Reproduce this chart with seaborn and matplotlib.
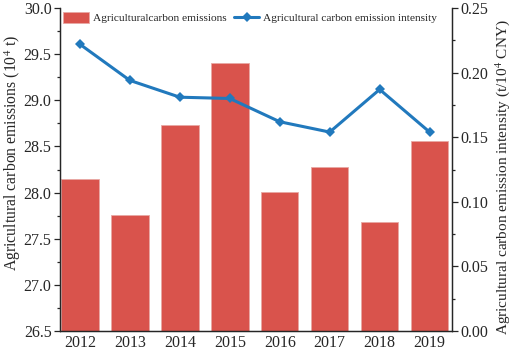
import numpy as np
import pandas as pd
import matplotlib
matplotlib.use('Agg')
import matplotlib.pyplot as plt
import seaborn as sns
from matplotlib.ticker import MultipleLocator

years = ['2012', '2013', '2014', '2015', '2016', '2017', '2018', '2019']
emissions = [28.15, 27.76, 28.73, 29.40, 28.01, 28.28, 27.68, 28.56]
intensity = [0.222, 0.194, 0.181, 0.180, 0.162, 0.154, 0.187, 0.154]

df = pd.DataFrame({'year': years, 'emissions': emissions, 'intensity': intensity})

sns.set_theme(style='ticks')
plt.rcParams['font.family'] = ['Liberation Serif', 'DejaVu Serif']
plt.rcParams['mathtext.fontset'] = 'stix'

bar_color = '#d9534c'
line_color = '#2179bd'

fig, ax = plt.subplots(figsize=(5.12, 3.51), dpi=100)
sns.barplot(data=df, x='year', y='emissions', ax=ax, color=bar_color,
            saturation=1, width=0.75, edgecolor='#e8a8a4', linewidth=0.6,
            label='Agriculturalcarbon emissions')
ax.set_ylim(26.5, 30.0)
ax.set_xlim(-0.4, 7.45)
ax.yaxis.set_major_locator(MultipleLocator(0.5))
ax.yaxis.set_minor_locator(MultipleLocator(0.25))
ax.set_xlabel('')
ax.set_ylabel('Agricultural carbon emissions (10$^4$ t)', fontsize=11.3)
ax.yaxis.set_label_coords(-0.095, 0.55)

ax2 = ax.twinx()
sns.lineplot(x=np.arange(len(years)), y=intensity, ax=ax2, color=line_color,
             linewidth=2.2, marker='D', markersize=5.5, markeredgewidth=0,
             label='Agricultural carbon emission intensity', legend=False)
ax2.set_ylim(0, 0.25)
ax2.yaxis.set_major_locator(MultipleLocator(0.05))
ax2.yaxis.set_minor_locator(MultipleLocator(0.025))
ax2.yaxis.set_major_formatter(plt.FuncFormatter(lambda v, _: f'{v:.2f}'))
ax2.set_ylabel('Agricultural carbon emission intensity (t/10$^4$ CNY)', fontsize=11)
ax2.yaxis.set_label_coords(1.105, 0.475)

for a in (ax, ax2):
    a.spines['top'].set_visible(False)
    for s in a.spines.values():
        s.set_linewidth(0.9)
    a.tick_params(axis='y', which='major', length=4, width=0.9, labelsize=11.5, direction='out', pad=2)
    a.tick_params(axis='y', which='minor', length=2.5, width=0.9, direction='out')
ax.tick_params(axis='x', length=0, labelsize=11.5, pad=3)

h1, l1 = ax.get_legend_handles_labels()
h2, l2 = ax2.get_legend_handles_labels()
ax.legend(h1 + h2, l1 + l2, ncol=2, frameon=False, fontsize=8.2,
          loc='upper left', bbox_to_anchor=(-0.017, 1.02), handlelength=2.2,
          handleheight=1.1, columnspacing=0.7, handletextpad=0.35)

fig.subplots_adjust(left=0.117, right=0.883, top=0.977, bottom=0.057)
fig.savefig('out.png', dpi=100)
